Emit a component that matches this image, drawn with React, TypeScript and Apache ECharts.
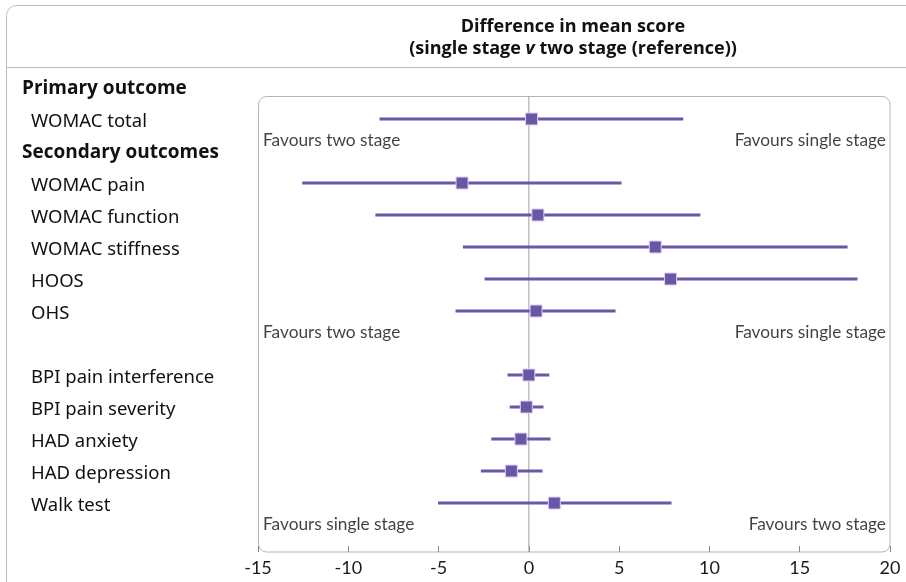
import React, { useEffect, useRef } from "react";
import * as echarts from "echarts";

// Row labels (top to bottom); headings are bold
const rowLabels = [
  "Primary outcome",
  "WOMAC total",
  "Secondary outcomes",
  "WOMAC pain",
  "WOMAC function",
  "WOMAC stiffness",
  "HOOS",
  "OHS",
  "",
  "BPI pain interference",
  "BPI pain severity",
  "HAD anxiety",
  "HAD depression",
  "Walk test",
];
const headingRows = [0, 2];

// Estimates with 95% CI
const outcomeRows = [1, 3, 4, 5, 6, 7, 9, 10, 11, 12, 13];
const estimates = [0.15, -3.7, 0.5, 7.0, 7.85, 0.4, 0.0, -0.14, -0.44, -0.97, 1.41];
const lowerCI = [-8.27, -12.55, -8.5, -3.65, -2.45, -4.06, -1.18, -1.06, -2.08, -2.66, -5.03];
const upperCI = [8.55, 5.13, 9.5, 17.65, 18.2, 4.8, 1.13, 0.81, 1.2, 0.76, 7.9];

// Direction annotations
const favourRows = [1.625, 7.625, 13.625];
const favourLeft = ["Favours two stage", "Favours two stage", "Favours single stage"];
const favourRight = ["Favours single stage", "Favours single stage", "Favours two stage"];

const xTicks = { min: -15, max: 20, interval: 5 };
const yRange = { min: -1, max: 14.53 };
const boxTopRow = 0.28;

const FONT = "Lato";
const LABEL_FONT = "Noto Sans";
const BOLD_FONT = "Open Sans";
const PURPLE = "#6a55a8";

export default function App() {
  const ref = useRef<HTMLDivElement>(null);
  useEffect(() => {
    const chart = echarts.init(ref.current!, undefined, { renderer: "svg" });
    const ciData = outcomeRows.map((r, i) => [lowerCI[i], upperCI[i], estimates[i], r]);
    const titleStyle = { fontFamily: BOLD_FONT, fontSize: 18, fontWeight: "bold", fill: "#111" };
    const option: any = {
      animation: false,
      textStyle: { fontFamily: FONT },
      grid: { left: 258, right: 16, top: 55, bottom: 30 },
      xAxis: {
        type: "value",
        min: xTicks.min,
        max: xTicks.max,
        interval: xTicks.interval,
        axisLine: { show: false, onZero: false },
        axisTick: { show: true, inside: true, length: 6, lineStyle: { color: "#888", width: 1 } },
        splitLine: { show: false },
        axisLabel: { fontSize: 18, color: "#1a1a1a", fontFamily: FONT, margin: 6 },
      },
      yAxis: {
        type: "value",
        inverse: true,
        min: yRange.min,
        max: yRange.max,
        interval: 1,
        axisLine: { show: false },
        axisTick: { show: false },
        splitLine: { show: false },
        axisLabel: {
          margin: 236,
          align: "left",
          showMinLabel: true,
          showMaxLabel: true,
          formatter: (v: number) => {
            if (!Number.isInteger(v) || v < 0 || v >= rowLabels.length) return "";
            const t = rowLabels[v];
            if (!t) return "";
            return headingRows.includes(v) ? `{h|${t}}` : `{i|${t}}`;
          },
          rich: {
            h: { fontSize: 19, fontWeight: "bold", color: "#111", fontFamily: BOLD_FONT },
            i: { fontSize: 18.5, color: "#111", fontFamily: LABEL_FONT, padding: [0, 0, 0, 9] },
          },
        },
      },
      graphic: [
        {
          type: "rect",
          z: -10,
          shape: { x: 6.5, y: 5.5, width: 1000, height: 800, r: 10 },
          style: { fill: "none", stroke: "#bdbdbd", lineWidth: 1 },
        },
        {
          type: "line",
          z: -10,
          shape: { x1: 7, y1: 67.5, x2: 906, y2: 67.5 },
          style: { stroke: "#bdbdbd", lineWidth: 1 },
        },
        {
          type: "rect",
          z: -10,
          shape: { x: 258.5, y: 96.5, width: 631.5, height: 455.5, r: 8 },
          style: { fill: "none", stroke: "#b5b5b5", lineWidth: 1 },
        },
        {
          type: "text",
          x: 573,
          y: 36,
          style: {
            text:
              "{t|Difference in mean score}\n{b|(single stage }{it|v}{b| two stage (reference))}",
            rich: {
              t: { ...titleStyle, lineHeight: 22 },
              b: { ...titleStyle, lineHeight: 22 },
              it: { ...titleStyle, fontStyle: "italic", lineHeight: 22 },
            },
            align: "center",
            verticalAlign: "middle",
          },
        },
      ],
      series: [
        {
          type: "line",
          data: [
            [0, boxTopRow],
            [0, yRange.max],
          ],
          symbol: "none",
          lineStyle: { color: "#a0a0a0", width: 1 },
          z: 1,
          silent: true,
        },
        {
          type: "custom",
          z: 5,
          data: ciData,
          encode: { x: [0, 1, 2], y: 3 },
          renderItem: (params: any, api: any) => {
            const lo = api.coord([api.value(0), api.value(3)]);
            const hi = api.coord([api.value(1), api.value(3)]);
            const est = api.coord([api.value(2), api.value(3)]);
            const s = 12;
            return {
              type: "group",
              children: [
                {
                  type: "line",
                  shape: { x1: lo[0], y1: lo[1], x2: hi[0], y2: hi[1] },
                  style: { stroke: PURPLE, lineWidth: 3 },
                },
                {
                  type: "rect",
                  shape: { x: est[0] - s / 2, y: est[1] - s / 2, width: s, height: s },
                  style: { fill: PURPLE, stroke: "#d9d2ea", lineWidth: 1 },
                },
              ],
            };
          },
        },
        {
          type: "scatter",
          symbolSize: 0,
          silent: true,
          data: favourRows.map((r, i) => ({ value: [xTicks.min, r], name: favourLeft[i] })),
          label: {
            show: true,
            position: "right",
            distance: 5,
            formatter: (p: any) => p.name,
            fontFamily: FONT,
            fontSize: 17.3,
            color: "#111",
          },
        },
        {
          type: "scatter",
          symbolSize: 0,
          silent: true,
          data: favourRows.map((r, i) => ({ value: [xTicks.max, r], name: favourRight[i] })),
          label: {
            show: true,
            position: "left",
            distance: 4,
            formatter: (p: any) => p.name,
            fontFamily: FONT,
            fontSize: 17.3,
            color: "#111",
          },
        },
      ],
    };
    chart.setOption(option);
    return () => chart.dispose();
  }, []);
  return <div ref={ref} style={{ width: 906, height: 582, position: "fixed", left: 0, top: 0 }} />;
}
